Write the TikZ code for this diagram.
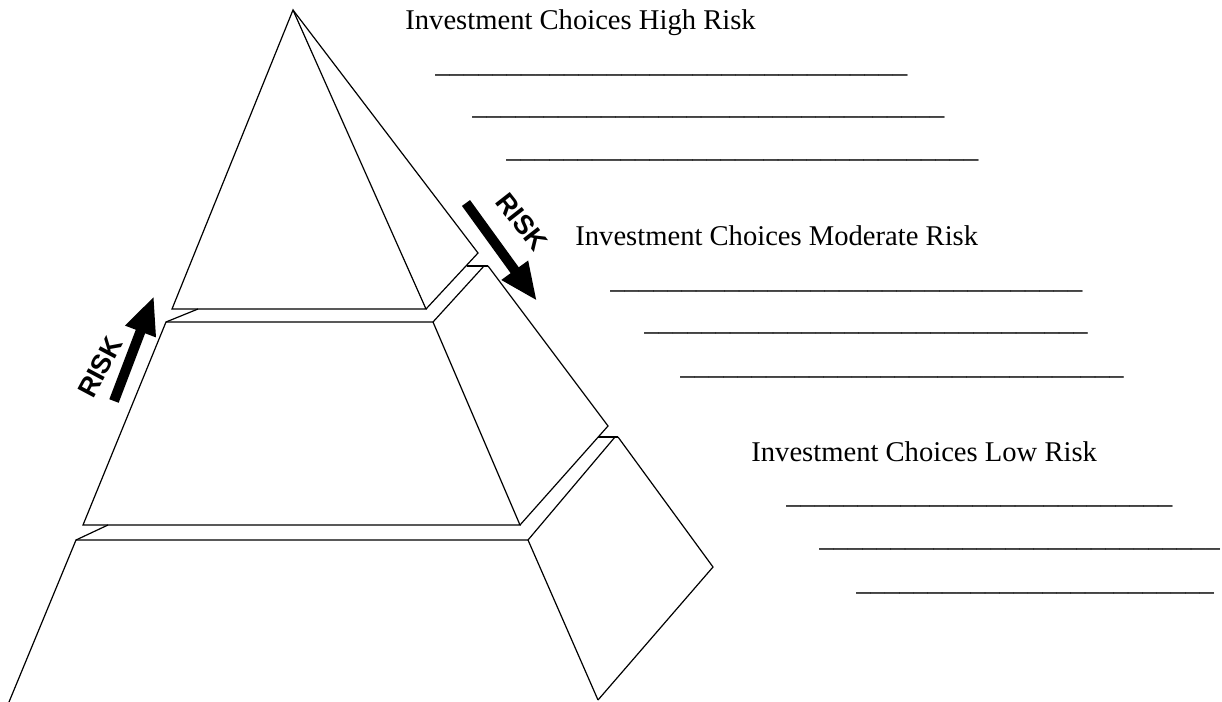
\documentclass[tikz,border=0pt]{standalone}
\usepackage{fontspec}
\setmainfont{Liberation Serif}
\newfontfamily\riskfont{Liberation Sans}
\usetikzlibrary{arrows.meta}

% a row of underscores to write on
\newcommand\blanks[1]{\foreach\k in {1,...,#1}{\_}}

\tikzset{
  edge/.style={line width=0.6pt, line join=miter},
  riskarrow/.style={line width=5pt, -{Triangle[length=19pt, width=15pt]}},
  risklabel/.style={font=\riskfont\bfseries\fontsize{13.5}{16}\selectfont, inner sep=0pt},
  heading/.style={anchor=base west, inner sep=0pt, font=\fontsize{14.3}{17}\selectfont},
  blank/.style={anchor=base west, inner sep=0pt, font=\fontsize{14.3}{17}\selectfont}
}

\begin{document}
\begin{tikzpicture}[x=0.5pt, y=-0.5pt]
  \useasboundingbox (0,0) rectangle (1222,702);

  % ---- top block ----
  \coordinate (apex) at (293,10);
  \coordinate (t1) at (172,309);
  \coordinate (t2) at (426,309);
  \coordinate (t3) at (478,253);
  \draw[edge] (t1) -- (apex) -- (t2) -- cycle;
  \draw[edge] (apex) -- (t3) -- (t2);

  % ---- middle block ----
  \coordinate (m1) at (166,322);
  \coordinate (m2) at (433,322);
  \coordinate (m3) at (488,266);
  \coordinate (m4) at (608,426);
  \coordinate (m5) at (520,525);
  \coordinate (m6) at (83,525);
  \coordinate (m7) at (484,266);
  \draw[edge] (m1) -- (m2) -- (m5) -- (m6) -- cycle;
  \draw[edge] (m2) -- (m7);
  \draw[edge] (m3) -- (m4) -- (m5);
  % ledges back to the top block
  \draw[edge] (m1) -- (198,309);
  \draw[edge] (467,266) -- (m3);

  % ---- bottom block ----
  \coordinate (b1) at (76,540);
  \coordinate (b2) at (528,540);
  \coordinate (b3) at (618,437);
  \coordinate (b4) at (713,567);
  \coordinate (b5) at (598,700);
  \coordinate (b6) at (9,702);
  \coordinate (b7) at (615,437);
  \draw[edge] (b6) -- (b1) -- (b2) -- (b5);
  \draw[edge] (b2) -- (b7);
  \draw[edge] (b3) -- (b4) -- (b5);
  % ledges back to the middle block
  \draw[edge] (b1) -- (108,525);
  \draw[edge] (598,437) -- (b3);

  % ---- risk arrows ----
  \coordinate (upfrom) at (114,401);
  \coordinate (upto) at (154,296);
  \coordinate (downfrom) at (466,203);
  \coordinate (downto) at (537,301);
  \draw[riskarrow] (upfrom) -- (upto);
  \draw[riskarrow] (downfrom) -- (downto);
  \node[risklabel, rotate=62] (riskup) at (100,367) {RISK};
  \node[risklabel, rotate=-52] (riskdown) at (522,222) {RISK};

  % ---- high risk ----
  \node[heading] (high) at (405,29) {Investment Choices High Risk};
  \node[blank] (high1) at (435,72.5) {\blanks{33}};
  \node[blank] (high2) at (472,114.5) {\blanks{33}};
  \node[blank] (high3) at (506,157.5) {\blanks{33}};

  % ---- moderate risk ----
  \node[heading] (moderate) at (575,245) {Investment Choices Moderate Risk};
  \node[blank] (moderate1) at (610,288.5) {\blanks{33}};
  \node[blank] (moderate2) at (644,330.5) {\blanks{31}};
  \node[blank] (moderate3) at (680,374.5) {\blanks{31}};

  % ---- low risk ----
  \node[heading] (low) at (751,461) {Investment Choices Low Risk};
  \node[blank] (low1) at (786,503.5) {\blanks{27}};
  \node[blank] (low2) at (819,546.5) {\blanks{28}};
  \node[blank] (low3) at (856,590.5) {\blanks{25}};
\end{tikzpicture}
\end{document}
